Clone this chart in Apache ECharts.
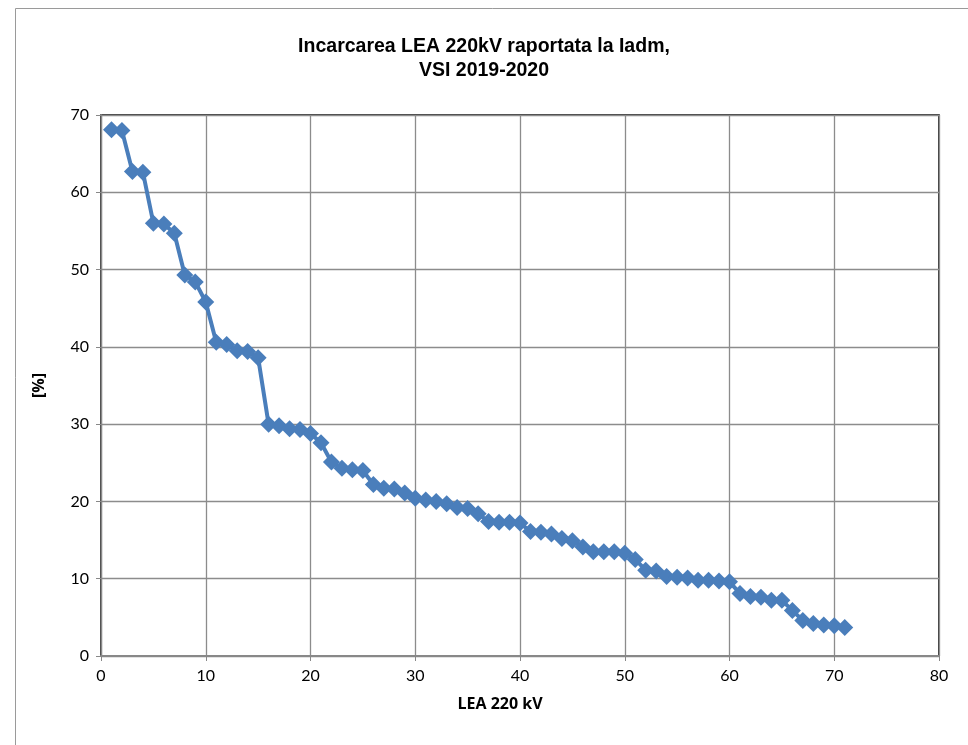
<!DOCTYPE html>
<html><head><meta charset="utf-8">
<script src="https://cdn.jsdelivr.net/npm/echarts@6/dist/echarts.min.js"></script>
<style>html,body{margin:0;padding:0;background:#fff}#c{width:968px;height:745px}</style>
</head><body><div id="c"></div>
<script>
const titleText = "Incarcarea LEA 220kV raportata la Iadm,\nVSI 2019-2020";
const xName = "LEA 220 kV";
const yName = "[%]";
const xValues = [];
for (let i = 1; i <= 71; i++) xValues.push(i);
const loadPct = [
  68.1, 68.0, 62.7, 62.6, 56.0, 55.9, 54.7, 49.3, 48.4, 45.8,
  40.6, 40.3, 39.5, 39.4, 38.6, 30.0, 29.8, 29.4, 29.3, 28.8,
  27.6, 25.1, 24.3, 24.1, 24.0, 22.2, 21.7, 21.6, 21.1, 20.4,
  20.2, 20.0, 19.7, 19.2, 19.1, 18.4, 17.4, 17.3, 17.3, 17.2,
  16.1, 16.0, 15.8, 15.2, 14.9, 14.1, 13.5, 13.5, 13.5, 13.3,
  12.5, 11.1, 11.0, 10.3, 10.2, 10.1, 9.8, 9.8, 9.7, 9.6,
  8.1, 7.7, 7.6, 7.2, 7.2, 5.9, 4.6, 4.2, 4.0, 3.9, 3.7
];
const seriesData = xValues.map((x, i) => [x, loadPct[i]]);

const chart = echarts.init(document.getElementById('c'), null, {renderer: 'canvas'});
chart.setOption({
  animation: false,
  backgroundColor: '#fff',
  title: {
    text: titleText, left: 'center', top: 30,
    textStyle: {fontFamily: 'Liberation Sans', fontWeight: 'bold', fontSize: 19.5, lineHeight: 24, color: '#000'}
  },
  graphic: [
    {type: 'rect', shape: {x: 15.5, y: 8.5, width: 1000, height: 800}, style: {fill: 'none', stroke: '#9a9a9a', lineWidth: 1}, z: -1},
    {type: 'rect', shape: {x: 101, y: 115, width: 838, height: 541}, style: {fill: 'none', stroke: '#000', lineWidth: 1.5}, z: 0}
  ],
  grid: {left: 101, right: 29, top: 115, bottom: 89, containLabel: false},
  xAxis: {
    type: 'value', min: 0, max: 80, interval: 10,
    name: xName, nameLocation: 'middle', nameGap: 40,
    nameTextStyle: {fontFamily: 'Open Sans', fontWeight: 'bold', fontSize: 16, color: '#000', padding: [0, 40, 0, 0]},
    axisLine: {show: true, onZero: false, lineStyle: {color: '#888', width: 2}},
    axisTick: {show: true, length: 5, lineStyle: {color: '#888'}},
    axisLabel: {fontFamily: 'Lato', fontSize: 16, color: '#000', margin: 12},
    splitLine: {show: true, lineStyle: {color: '#8c8c8c', width: 1.3}}
  },
  yAxis: {
    type: 'value', min: 0, max: 70, interval: 10,
    name: yName, nameLocation: 'middle', nameGap: 54, nameRotate: 90,
    nameTextStyle: {fontFamily: 'Open Sans', fontWeight: 'bold', fontSize: 16, color: '#000'},
    axisLine: {show: true, lineStyle: {color: '#888', width: 1.3}},
    axisTick: {show: true, length: 5, lineStyle: {color: '#888'}},
    axisLabel: {fontFamily: 'Lato', fontSize: 16, color: '#000', margin: 12},
    splitLine: {show: true, lineStyle: {color: '#8c8c8c', width: 1.3}}
  },
  series: [{
    type: 'line', data: seriesData,
    symbol: 'diamond', symbolSize: 17,
    itemStyle: {color: '#4a7ebb'},
    lineStyle: {color: '#4a7ebb', width: 4}
  }]
});
</script></body></html>
